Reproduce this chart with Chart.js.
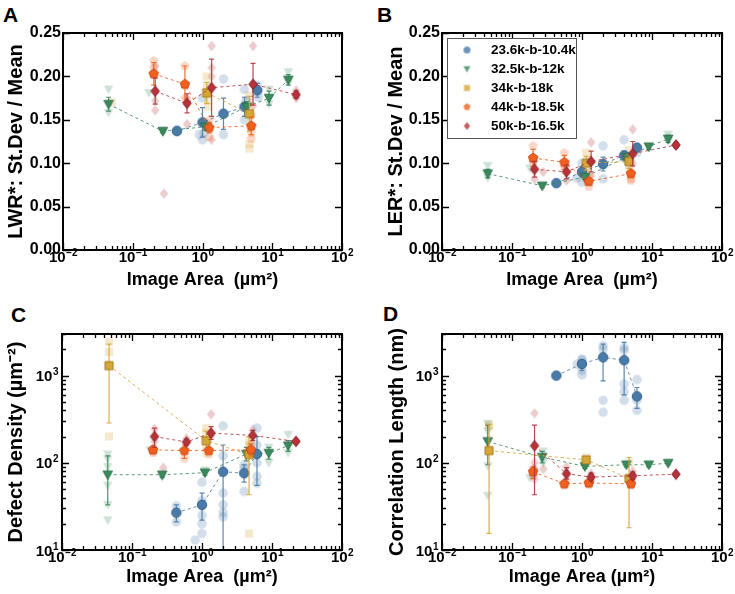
<!DOCTYPE html>
<html>
<head>
<meta charset="utf-8">
<script src="https://cdn.jsdelivr.net/npm/chart.js@4.4.1/dist/chart.umd.min.js"></script>
<style>
  body { margin: 0; background: #fff; width: 735px; height: 594px; position: relative; overflow: hidden;
         font-family: "Liberation Sans", Arial, Helvetica, sans-serif; }
  .panel { position: absolute; }
  .letter { position: absolute; font-weight: bold; font-size: 21px; line-height: 21px; }
</style>
</head>
<body>
<div class="letter" style="left:3px;top:4px">A</div>
<div class="letter" style="left:377px;top:4px">B</div>
<div class="letter" style="left:11px;top:304px">C</div>
<div class="letter" style="left:383px;top:303px">D</div>
<div class="panel" style="left:0;top:0;width:367px;height:297px"><canvas id="cA"></canvas></div>
<div class="panel" style="left:367px;top:0;width:368px;height:297px"><canvas id="cB"></canvas></div>
<div class="panel" style="left:0;top:297px;width:367px;height:297px"><canvas id="cC"></canvas></div>
<div class="panel" style="left:367px;top:297px;width:368px;height:297px"><canvas id="cD"></canvas></div>
<script>
// block copolymer samples, order: blue, green, gold, orange, red
const seriesNames = ['23.6k-b-10.4k', '32.5k-b-12k', '34k-b-18k', '44k-b-18.5k', '50k-b-16.5k'];

// image areas (µm²) of the averaged points
const blueX = [0.43, 1.0, 2.0, 4.0, 6.1];
const greenX = [0.045, 0.27, 1.1, 4.3, 9.0, 17];
const goldX = [0.047, 1.15, 4.7];
const orangeX = [0.2, 0.56, 1.25, 5.0];
const redX = [0.21, 0.6, 1.35, 5.3, 22];
const meanX = [blueX, greenX, goldX, orangeX, redX];

// A: LWR* (mean, +/- error)
const lwrMeans = [
  [0.137, 0.147, 0.157, 0.165, 0.184],
  [0.168, 0.137, 0.142, 0.165, 0.175, 0.196],
  [null, 0.181, 0.157],
  [0.203, 0.191, 0.141, 0.143],
  [0.183, 0.169, 0.187, 0.191, 0.179]
];
const lwrErr = [
  [0.002, 0.017, 0.018, 0.011, 0.008],
  [0.008, 0.002, 0.004, 0.006, 0.008, 0.006],
  [null, 0.012, 0.02],
  [0.013, 0.021, 0.006, 0.01],
  [0.015, 0.011, 0.033, 0.024, 0.004]
];
const lwrRaw = [
  [[0.43, 0.139], [0.9, 0.133], [1.0, 0.175], [1.0, 0.127], [1.05, 0.135], [2.0, 0.197], [2.0, 0.133], [4.0, 0.185], [4.0, 0.15], [4.2, 0.172], [6.1, 0.19], [6.3, 0.176]],
  [[0.045, 0.185], [0.045, 0.158], [0.17, 0.181], [0.27, 0.135], [1.1, 0.145], [9, 0.185], [9, 0.168], [17, 0.205], [17, 0.193]],
  [[0.05, 0.17], [1.15, 0.2], [1.15, 0.19], [1.2, 0.172], [1.2, 0.165], [4.7, 0.178], [4.7, 0.17], [4.7, 0.122], [4.7, 0.117]],
  [[0.2, 0.218], [0.2, 0.21], [0.56, 0.212], [0.56, 0.175], [1.25, 0.15], [1.25, 0.13], [5, 0.155], [5, 0.135], [5, 0.128]],
  [[0.21, 0.212], [0.21, 0.172], [0.21, 0.161], [0.28, 0.065], [0.6, 0.145], [0.6, 0.175], [1.35, 0.235], [1.35, 0.21], [1.35, 0.2], [1.35, 0.127], [5.3, 0.235], [5.3, 0.166], [22, 0.175], [22, 0.184]]
];

// B: LER*
const lerMeans = [
  [0.077, 0.090, 0.099, 0.109, 0.118],
  [0.088, 0.074, 0.084, 0.107, 0.119, 0.128],
  [null, 0.100, 0.102],
  [0.106, 0.101, 0.079, 0.088],
  [0.093, 0.090, 0.102, 0.111, 0.121]
];
const lerErr = [
  [0.001, 0.006, 0.008, 0.005, 0.004],
  [0.005, 0.002, 0.003, 0.004, 0.003, 0.004],
  [null, 0.008, 0.008],
  [0.01, 0.008, 0.004, 0.004],
  [0.009, 0.008, 0.012, 0.014, 0.003]
];
const lerRaw = [
  [[0.85, 0.083], [1.0, 0.1], [1.0, 0.078], [2.0, 0.12], [2.0, 0.082], [4.0, 0.127], [4.0, 0.106], [6.1, 0.112]],
  [[0.045, 0.097], [0.045, 0.083], [0.18, 0.094], [0.27, 0.073], [1.1, 0.08], [4.3, 0.1], [17, 0.133], [17, 0.125]],
  [[1.15, 0.112], [1.15, 0.09], [1.2, 0.104], [4.7, 0.115], [4.7, 0.095]],
  [[0.2, 0.12], [0.2, 0.1], [0.56, 0.112], [0.56, 0.095], [1.25, 0.073], [1.25, 0.085], [5, 0.082], [5, 0.08]],
  [[0.21, 0.082], [0.21, 0.103], [0.28, 0.09], [0.6, 0.08], [0.6, 0.098], [1.35, 0.124], [1.35, 0.085], [5.3, 0.139], [5.3, 0.1], [22, 0.12]]
];

// C: defect density (µm⁻²), error bars as low / high
const ddMeans = [
  [26.8, 32.9, 79, 76, 126],
  [73, 73, 77, 126, 129, 157],
  [1300, 179, 124],
  [141, 138, 138, 141],
  [200, 173, 219, 206, 176]
];
const ddLo = [
  [21, 22, 9, 60, 55],
  [33, 68, 72, 105, 110, 135],
  [286, 140, 43],
  [130, 112, 128, 120],
  [150, 160, 185, 180, 170]
];
const ddHi = [
  [33, 45, 160, 95, 200],
  [120, 78, 82, 150, 150, 180],
  [2300, 230, 200],
  [155, 160, 150, 165],
  [250, 185, 260, 235, 182]
];
const ddRaw = [
  [[0.43, 21], [0.43, 32], [0.8, 13], [1.0, 60], [1.0, 37], [1.0, 25], [1.0, 20], [1.0, 15.5], [2.0, 265], [2.0, 120], [2.0, 45], [2.0, 33], [2.0, 27], [2.0, 24], [4.0, 95], [4.0, 87], [4.0, 47], [6.1, 250], [6.1, 160], [6.1, 100], [6.1, 70], [6.1, 58]],
  [[0.045, 125], [0.045, 110], [0.045, 90], [0.045, 55], [0.045, 33], [0.045, 22], [0.18, 140], [0.27, 68], [1.1, 82], [9, 100], [9, 150], [17, 210], [17, 130]],
  [[0.047, 2450], [0.047, 1860], [0.047, 200], [1.15, 250], [1.15, 220], [1.15, 150], [1.15, 130], [4.7, 15.5], [4.7, 180], [4.7, 160]],
  [[0.2, 135], [0.2, 130], [0.56, 112], [1.25, 125], [5, 130], [5, 160]],
  [[0.21, 245], [0.21, 175], [0.28, 88], [0.6, 190], [1.35, 360], [1.35, 200], [5.3, 240], [22, 178]]
];

// D: correlation length (nm)
const corrMeans = [
  [1000, 1360, 1620, 1500, 578],
  [176, 116, 91, 95, 95, 99],
  [138, 108, 66],
  [79, 57.5, 58.6, 57.5],
  [157, 75, 68.6, 71, 74]
];
const corrLo = [
  [980, 1150, 870, 600, 420],
  [95, 100, 86, 90, 90, 95],
  [15.5, 100, 18],
  [66, 54, 55, 54],
  [43, 65, 64, 64, 72]
];
const corrHi = [
  [1020, 1500, 2300, 2400, 730],
  [270, 135, 97, 100, 100, 103],
  [275, 115, 115],
  [90, 62, 63, 62],
  [270, 88, 76, 78, 76]
];
const corrRaw = [
  [[0.85, 1350], [1.0, 1500], [1.0, 1550], [1.0, 1150], [1.0, 1020], [2.0, 2200], [2.0, 2000], [2.0, 520], [2.0, 380], [4.0, 2100], [4.0, 1950], [4.0, 800], [4.0, 650], [4.0, 520], [6.1, 900], [6.1, 520], [6.1, 400]],
  [[0.045, 280], [0.045, 230], [0.045, 92], [0.045, 42], [0.18, 67], [0.28, 135], [0.28, 100], [1.1, 88]],
  [[0.047, 275], [0.047, 260], [1.15, 115], [4.7, 100]],
  [[0.2, 72], [0.2, 85], [0.56, 55], [1.25, 56], [1.25, 62], [5, 55]],
  [[0.21, 370], [0.21, 100], [0.21, 85], [0.21, 65], [0.28, 85], [0.6, 90], [0.6, 65], [1.35, 75], [1.35, 62], [5.3, 80], [5.3, 65]]
];

// axis ticks
const xMajor = [0.01, 0.1, 1, 10, 100];
const xExp = ['\u22122', '\u22121', '0', '1', '2'];
const yLogMajor = [10, 100, 1000];
const yLogExp = ['1', '2', '3'];

const FONT = '"Liberation Sans", Arial, Helvetica, sans-serif';
Chart.defaults.font.family = FONT;
Chart.defaults.color = '#000';

const seriesShapes = ['circle', 'tri', 'square', 'penta', 'diamond'];
const seriesRGB = ['74,122,168', '59,138,94', '214,166,55', '240,96,30', '181,51,57'];
const edgeRGB = ['45,92,138', '38,108,68', '160,118,28', '200,68,14', '132,30,38'];

function marker(shape, fill, edge, s) {
  const n = Math.ceil(s * 1.25 + 2);
  const c = document.createElement('canvas');
  c.width = n; c.height = n;
  const g = c.getContext('2d');
  const m = n / 2, r = s / 2;
  g.beginPath();
  if (shape === 'circle') g.arc(m, m, r, 0, Math.PI * 2);
  else if (shape === 'tri') { g.moveTo(m - r, m - r * 0.8); g.lineTo(m + r, m - r * 0.8); g.lineTo(m, m + r); }
  else if (shape === 'square') g.rect(m - r * 0.85, m - r * 0.85, r * 1.7, r * 1.7);
  else if (shape === 'penta') {
    for (let k = 0; k < 5; k++) {
      const a = -Math.PI / 2 + k * 2 * Math.PI / 5;
      g.lineTo(m + r * 1.05 * Math.cos(a), m + r * 1.05 * Math.sin(a));
    }
  } else if (shape === 'diamond') { g.moveTo(m, m - r * 1.12); g.lineTo(m + r * 0.9, m); g.lineTo(m, m + r * 1.12); g.lineTo(m - r * 0.9, m); }
  g.closePath();
  g.fillStyle = fill; g.fill();
  if (edge) { g.strokeStyle = edge; g.lineWidth = 0.9; g.stroke(); }
  return c;
}

const meanMk = seriesShapes.map((s, i) => marker(s, `rgb(${seriesRGB[i]})`, `rgb(${edgeRGB[i]})`, 9.5));
const faintMk = seriesShapes.map((s, i) => marker(s, `rgba(${seriesRGB[i]},0.25)`, null, 9.5));
const legendMk = seriesShapes.map((s, i) => marker(s, `rgba(${seriesRGB[i]},0.8)`, null, 7));

const isDecade = v => Math.abs(Math.log10(v) - Math.round(Math.log10(v))) < 1e-6;

function drawPow(ctx, exp, x, baseY, align) {
  const big = `bold 15px ${FONT}`, small = `bold 10px ${FONT}`;
  ctx.font = big; const w1 = ctx.measureText('10').width;
  ctx.font = small; const w2 = ctx.measureText(exp).width;
  const x0 = align === 'center' ? x - (w1 + w2) / 2 : x - w1 - w2;
  ctx.textAlign = 'left'; ctx.textBaseline = 'alphabetic'; ctx.fillStyle = '#000';
  ctx.font = big; ctx.fillText('10', x0, baseY);
  ctx.font = small; ctx.fillText(exp, x0 + w1 + 0.5, baseY - 6);
}

const framePlugin = {
  id: 'frame',
  beforeDatasetDraw(chart, args) {
    const ds = chart.data.datasets[args.index];
    if (!ds.errBars) return;
    const { ctx, chartArea: ca } = chart;
    const xs = chart.scales.x, ys = chart.scales.y;
    ctx.save();
    ctx.beginPath(); ctx.rect(ca.left, ca.top, ca.width, ca.height); ctx.clip();
    ctx.strokeStyle = ds.errColor; ctx.lineWidth = 1.2;
    ctx.beginPath();
    ds.data.forEach(p => {
      if (p.lo == null) return;
      const x = xs.getPixelForValue(p.x);
      const y1 = ys.getPixelForValue(p.lo), y2 = ys.getPixelForValue(p.hi);
      ctx.moveTo(x, y1); ctx.lineTo(x, y2);
      ctx.moveTo(x - 2.5, y1); ctx.lineTo(x + 2.5, y1);
      ctx.moveTo(x - 2.5, y2); ctx.lineTo(x + 2.5, y2);
    });
    ctx.stroke();
    ctx.restore();
  },
  afterDraw(chart, args, opts) {
    const { ctx, chartArea: ca } = chart;
    const xs = chart.scales.x, ys = chart.scales.y;
    ctx.save();
    ctx.strokeStyle = '#000'; ctx.lineWidth = 1.3;
    ctx.beginPath();
    xs.ticks.forEach(t => {
      const px = Math.round(xs.getPixelForValue(t.value)) + 0.5;
      const len = isDecade(t.value) ? 7 : 4;
      ctx.moveTo(px, ca.bottom); ctx.lineTo(px, ca.bottom - len);
      ctx.moveTo(px, ca.top); ctx.lineTo(px, ca.top + len);
    });
    ys.ticks.forEach(t => {
      const py = Math.round(ys.getPixelForValue(t.value)) + 0.5;
      const len = (!opts.ylog || isDecade(t.value)) ? 7 : 4;
      ctx.moveTo(ca.left, py); ctx.lineTo(ca.left + len, py);
      ctx.moveTo(ca.right, py); ctx.lineTo(ca.right - len, py);
    });
    ctx.stroke();
    ctx.lineWidth = 2;
    ctx.strokeRect(ca.left, ca.top, ca.width, ca.height);

    xMajor.forEach((v, k) => drawPow(ctx, xExp[k], xs.getPixelForValue(v), ca.bottom + 12, 'center'));
    if (opts.ylog) {
      yLogMajor.forEach((v, k) => drawPow(ctx, yLogExp[k], ca.left - 4, ys.getPixelForValue(v) + 5.5, 'right'));
    }

    if (opts.legend) {
      const bx = ca.left + 5, by = ca.top + 5, bw = 129, bh = 100;
      ctx.fillStyle = '#fff'; ctx.fillRect(bx, by, bw, bh);
      ctx.strokeStyle = '#555'; ctx.lineWidth = 1; ctx.strokeRect(bx + 0.5, by + 0.5, bw, bh);
      seriesNames.forEach((name, i) => {
        const cy = by + 12 + i * 19;
        const mk = legendMk[i];
        ctx.drawImage(mk, bx + 20 - mk.width / 2, cy - mk.height / 2);
        ctx.fillStyle = '#000'; ctx.font = `bold 13.5px ${FONT}`;
        ctx.textAlign = 'left'; ctx.textBaseline = 'middle';
        ctx.fillText(name, bx + 44, cy);
      });
    }
    ctx.restore();
  }
};

function buildDatasets(means, lo, hi, raw) {
  const out = [];
  seriesNames.forEach((name, i) => {
    out.push({
      label: name + ' (images)', data: raw[i].map(p => ({ x: p[0], y: p[1] })),
      pointStyle: faintMk[i], pointRadius: 5, showLine: false, order: 20
    });
  });
  seriesNames.forEach((name, i) => {
    const pts = [];
    meanX[i].forEach((x, k) => {
      if (means[i][k] == null) return;
      pts.push({ x, y: means[i][k], lo: lo[i][k], hi: hi[i][k] });
    });
    out.push({
      label: name, data: pts, pointStyle: meanMk[i], pointRadius: 5,
      showLine: true, borderColor: `rgba(${seriesRGB[i]},0.85)`, borderWidth: 1, borderDash: [3, 3],
      errBars: true, errColor: `rgba(${seriesRGB[i]},0.9)`, order: 10 - i
    });
  });
  return out;
}

function symLo(means, err) { return means.map((s, i) => s.map((v, k) => v == null ? null : v - err[i][k])); }
function symHi(means, err) { return means.map((s, i) => s.map((v, k) => v == null ? null : v + err[i][k])); }

const xTickVals = [];
xMajor.forEach((v, k) => {
  xTickVals.push(v);
  if (k < xMajor.length - 1) for (let d = 2; d <= 9; d++) xTickVals.push(+(v * d).toPrecision(3));
});
const yLogTickVals = [];
yLogMajor.forEach(v => { for (let d = 1; d <= 9; d++) if (v * d <= 3000) yLogTickVals.push(v * d); });

const panels = [
  { id: 'cA', L: { w: 367, h: 297, left: 63, right: 342, top: 33, bottom: 250 }, ylog: false, legend: false,
    yTitle: 'LWR*: St.Dev / Mean', xTitle: 'Image Area  (µm²)', tpad: 4,
    ds: buildDatasets(lwrMeans, symLo(lwrMeans, lwrErr), symHi(lwrMeans, lwrErr), lwrRaw) },
  { id: 'cB', L: { w: 368, h: 297, left: 75, right: 355, top: 33, bottom: 250 }, ylog: false, legend: true,
    yTitle: 'LER*: St.Dev / Mean', xTitle: 'Image Area  (µm²)', tpad: 17,
    ds: buildDatasets(lerMeans, symLo(lerMeans, lerErr), symHi(lerMeans, lerErr), lerRaw) },
  { id: 'cC', L: { w: 367, h: 297, left: 62, right: 342, top: 37, bottom: 253 }, ylog: true, legend: false,
    yTitle: 'Defect Density (µm⁻²)', xTitle: 'Image Area  (µm²)', tpad: 4,
    ds: buildDatasets(ddMeans, ddLo, ddHi, ddRaw) },
  { id: 'cD', L: { w: 368, h: 297, left: 75, right: 355, top: 37, bottom: 253 }, ylog: true, legend: false,
    yTitle: 'Correlation Length (nm)', xTitle: 'Image Area (µm²)', tpad: 18,
    ds: buildDatasets(corrMeans, corrLo, corrHi, corrRaw) }
];

panels.forEach(p => {
  const L = p.L;
  const yTitle = { display: true, text: p.yTitle, font: { size: 20, weight: 'bold' }, padding: { top: p.tpad, bottom: 0 } };
  const yScale = p.ylog ? {
    type: 'logarithmic', min: 10, max: 3000,
    afterBuildTicks: s => { s.ticks = yLogTickVals.map(v => ({ value: v })); },
    afterFit: s => { s.width = L.left; },
    ticks: { display: false }, grid: { display: false, drawTicks: false }, border: { display: false },
    title: yTitle
  } : {
    type: 'linear', min: 0, max: 0.25,
    afterFit: s => { s.width = L.left; },
    ticks: { stepSize: 0.05, callback: v => v.toFixed(2), font: { size: 16, weight: 'bold' }, padding: 2 },
    grid: { display: false, drawTicks: false }, border: { display: false },
    title: yTitle
  };
  new Chart(document.getElementById(p.id), {
    type: 'scatter',
    data: { datasets: p.ds },
    options: {
      responsive: true, maintainAspectRatio: false, animation: false, events: [],
      layout: { padding: { left: 0, top: L.top, right: L.w - L.right, bottom: 0 } },
      plugins: { legend: { display: false }, tooltip: { enabled: false }, frame: { ylog: p.ylog, legend: p.legend } },
      scales: {
        x: {
          type: 'logarithmic', min: 0.01, max: 100,
          afterBuildTicks: s => { s.ticks = xTickVals.map(v => ({ value: v })); },
          afterFit: s => { s.height = L.h - L.bottom; },
          ticks: { display: false }, grid: { display: false, drawTicks: false }, border: { display: false },
          title: { display: true, text: p.xTitle, font: { size: 18, weight: 'bold' }, padding: { top: 0, bottom: 6 } }
        },
        y: yScale
      }
    },
    plugins: [framePlugin]
  });
});
</script>
</body>
</html>
